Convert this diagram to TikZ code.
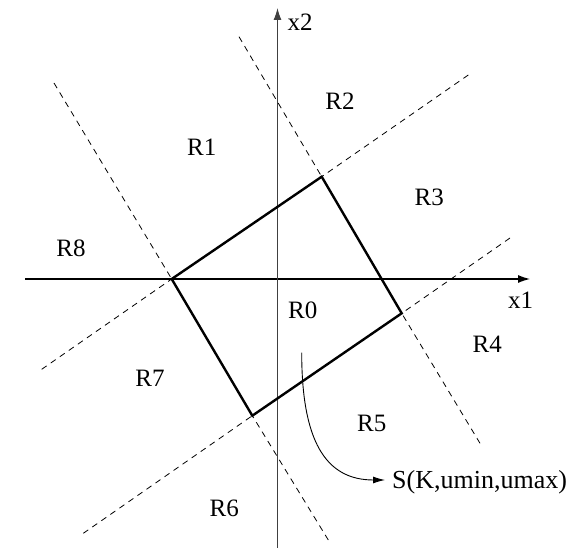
\documentclass[tikz,border=0pt]{standalone}
\usepackage{fontspec}
\setmainfont{Liberation Serif}
\usetikzlibrary{arrows.meta}
\tikzset{
  lbl/.style={inner sep=0pt, anchor=base, font=\fontsize{25}{28}\selectfont},
  axis/.style={line width=1.1pt, -{Latex[length=12pt,width=8pt]}},
  sideline/.style={line width=2.4pt, line join=miter},
  ext/.style={line width=0.8pt, dash pattern=on 6pt off 5pt},
  map/.style={line width=0.9pt, -{Latex[length=12pt,width=7pt]}}
}
\begin{document}
\begin{tikzpicture}[x=1pt,y=-1pt]
\useasboundingbox (0,0) rectangle (582,548);
% axes
\coordinate (xs) at (25,279);
\coordinate (xe) at (530,279);
\coordinate (ys) at (277.5,548);
\coordinate (ye) at (277.5,8);
\draw[axis] (xs) -- (xe);
\draw[axis, black!75] (ys) -- (ye);
% rectangle corners
\coordinate (A) at (171.7,279);
\coordinate (B) at (321.7,176.7);
\coordinate (C) at (401.7,313.3);
\coordinate (D) at (252.3,415.7);
% dashed extensions
\coordinate (e1) at (54,83);
\coordinate (e2) at (239,36.7);
\coordinate (e3) at (468.3,75);
\coordinate (e4) at (510,238);
\coordinate (e5) at (480,443.3);
\coordinate (e6) at (328.3,540);
\coordinate (e7) at (83.3,533.3);
\coordinate (e8) at (41.7,369.3);
\draw[ext] (e1) -- (A);
\draw[ext] (e8) -- (A);
\draw[ext] (e2) -- (B);
\draw[ext] (e3) -- (B);
\draw[ext] (e4) -- (C);
\draw[ext] (e5) -- (C);
\draw[ext] (e6) -- (D);
\draw[ext] (e7) -- (D);
\draw[sideline] (A) -- (B) -- (C) -- (D) -- cycle;
% labels
\node[lbl] (x2) at (300,30.7) {x2};
\node[lbl] (x1) at (520.7,308.3) {x1};
\node[lbl] (R0) at (302.7,319) {R0};
\node[lbl] (R1) at (201.7,155.7) {R1};
\node[lbl] (R2) at (340,110) {R2};
\node[lbl] (R3) at (429.3,205.7) {R3};
\node[lbl] (R4) at (487.3,352.7) {R4};
\node[lbl] (R5) at (371.7,432) {R5};
\node[lbl] (R6) at (224.3,517) {R6};
\node[lbl] (R7) at (150,387) {R7};
\node[lbl] (R8) at (71,257) {R8};
\node[lbl, anchor=base west, font=\fontsize{26}{28}\selectfont] (S) at (392,488.3) {S(K,umin,umax)};
% mapping arrow
\coordinate (ms) at (301.7,352.7);
\coordinate (me) at (385,480);
\draw[map] (ms) .. controls (301.7,440) and (325,480) .. (me);
\end{tikzpicture}
\end{document}
